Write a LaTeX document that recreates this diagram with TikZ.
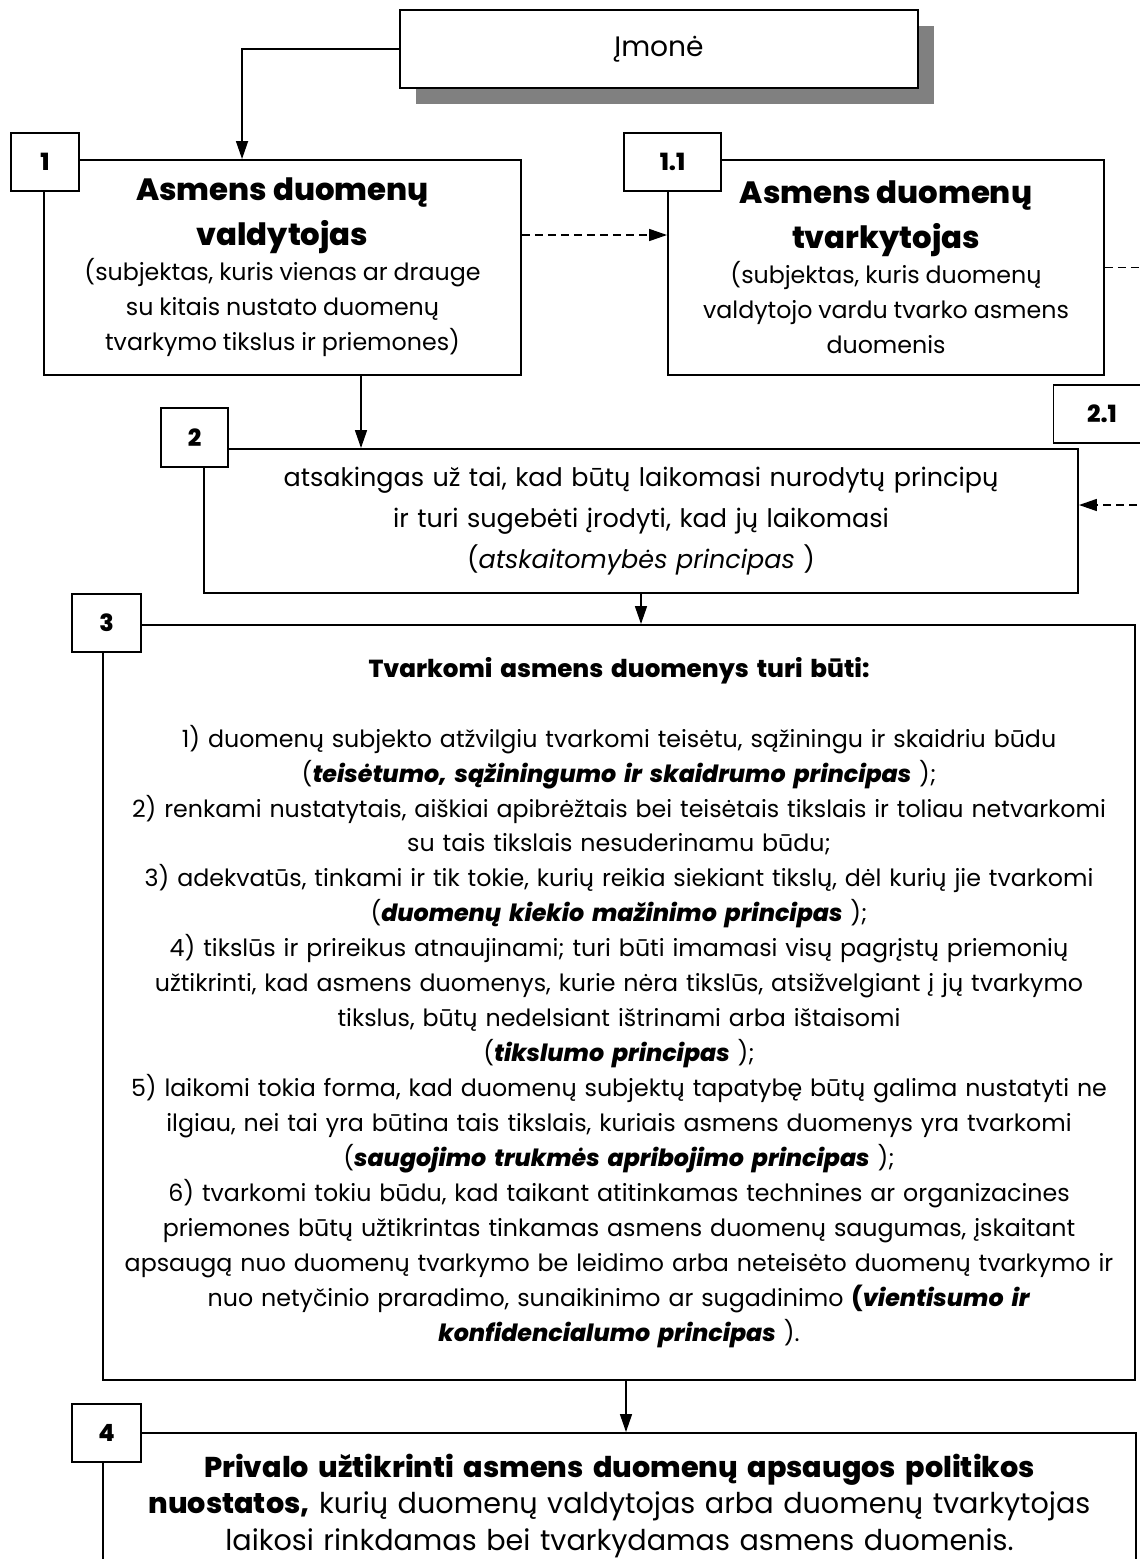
\documentclass[tikz,border=0pt]{standalone}
\usepackage{fontspec}
\setmainfont{Poppins}[BoldFont={* ExtraBold},BoldItalicFont={* ExtraBold Italic}]
\usetikzlibrary{arrows.meta,positioning,shadows}
\definecolor{Ink}{HTML}{000000}
\definecolor{Shade}{HTML}{808080}
\newcommand{\headfont}{\fontsize{17.5}{25.6}\selectfont\bfseries}
\newcommand{\bodyfont}{\fontsize{13.5}{19.9}\selectfont}

\begin{document}
\begin{tikzpicture}[
  x=0.2mm,y=-0.2mm,
  panel/.style={draw=Ink,fill=white,line width=1.1pt,align=center,inner sep=0pt},
  tag/.style={draw=Ink,fill=white,line width=1.1pt,minimum height=11.6mm,inner sep=0pt,font=\fontsize{13.5}{16}\selectfont\bfseries},
  arrow/.style={-{Triangle[length=3.6mm,width=2.4mm]},line width=0.9pt,draw=Ink},
  dasharrow/.style={arrow,dash pattern=on 1.6mm off 1mm},
  dashline/.style={line width=0.9pt,draw=Ink,dash pattern=on 1.6mm off 1mm}
]
\useasboundingbox (0,0) rectangle (1140,1559);
% top: company
\node[panel,minimum width=103.6mm,minimum height=15.6mm,font=\fontsize{16}{19}\selectfont,
  drop shadow={shadow xshift=3.2mm,shadow yshift=-3.2mm,fill=Shade,opacity=1}] (imone) at (659,49) {Įmonė};
% controller and processor
\node[panel,minimum width=95.4mm,minimum height=43mm,text width=92mm] (ctrl) at (282.5,267.5)
  {{\headfont Asmens duomenų\\valdytojas\par}{\bodyfont (subjektas, kuris vienas ar drauge\\su kitais nustato duomenų\\tvarkymo tikslus ir priemones)\par}};
\node[panel,minimum width=87.2mm,minimum height=43mm,text width=85mm] (proc) at (886,267.5)
  {{\headfont Asmens duomenų\\tvarkytojas\par}{\bodyfont (subjektas, kuris duomenų\\valdytojo vardu tvarko asmens\\duomenis\par}};
% responsibility
\node[panel,minimum width=174.8mm,minimum height=28.8mm,text width=172mm,font=\fontsize{14.5}{23.3}\selectfont] (resp) at (641,521)
  {atsakingas už tai, kad būtų laikomasi nurodytų principų\\ir turi sugebėti įrodyti, kad jų laikomasi\\(\textit{atskaitomybės principas} )};
% principles
\node[panel,minimum width=206.4mm,minimum height=151mm,text width=204mm,font=\bodyfont] (rules) at (619,1002.5)
  {{\fontsize{14}{19.9}\selectfont\textbf{Tvarkomi asmens duomenys turi būti:}}\\[19.9pt]
  1) duomenų subjekto atžvilgiu tvarkomi teisėtu, sąžiningu ir skaidriu būdu\\
  (\textbf{\textit{teisėtumo, sąžiningumo ir skaidrumo principas}} );\\
  2) renkami nustatytais, aiškiai apibrėžtais bei teisėtais tikslais ir toliau netvarkomi\\
  su tais tikslais nesuderinamu būdu;\\
  3) adekvatūs, tinkami ir tik tokie, kurių reikia siekiant tikslų, dėl kurių jie tvarkomi\\
  (\textbf{\textit{duomenų kiekio mažinimo principas}} );\\
  4) tikslūs ir prireikus atnaujinami; turi būti imamasi visų pagrįstų priemonių\\
  užtikrinti, kad asmens duomenys, kurie nėra tikslūs, atsižvelgiant į jų tvarkymo\\
  tikslus, būtų nedelsiant ištrinami arba ištaisomi\\
  (\textbf{\textit{tikslumo principas}} );\\
  5) laikomi tokia forma, kad duomenų subjektų tapatybę būtų galima nustatyti ne\\
  ilgiau, nei tai yra būtina tais tikslais, kuriais asmens duomenys yra tvarkomi\\
  (\textbf{\textit{saugojimo trukmės apribojimo principas}} );\\
  6) tvarkomi tokiu būdu, kad taikant atitinkamas technines ar organizacines\\
  priemones būtų užtikrintas tinkamas asmens duomenų saugumas, įskaitant\\
  apsaugą nuo duomenų tvarkymo be leidimo arba neteisėto duomenų tvarkymo ir\\
  nuo netyčinio praradimo, sunaikinimo ar sugadinimo \textbf{(\textit{vientisumo ir}}\\
  \textbf{\textit{konfidencialumo principas}} ).};
% policy
\node[panel,minimum width=206.6mm,minimum height=29.2mm,text width=204mm,font=\fontsize{16.3}{20.5}\selectfont] (policy) at (619.5,1506)
  {\textbf{Privalo užtikrinti asmens duomenų apsaugos politikos}\\\textbf{nuostatos,} kurių duomenų valdytojas arba duomenų tvarkytojas\\laikosi rinkdamas bei tvarkydamas asmens duomenis.};
% number tags
\node[tag,minimum width=13.6mm] (t1) at (45,162) {1};
\node[tag,minimum width=19.4mm] (t11) at (672.5,162) {1.1};
\node[tag,minimum width=13.4mm,minimum height=11.8mm] (t2) at (194.5,437.5) {2};
\node[tag,minimum width=19.4mm] (t21) at (1102,414) {2.1};
\node[tag,minimum width=13.8mm] (t3) at (106.5,623) {3};
\node[tag,minimum width=13.8mm] (t4) at (106.5,1433) {4};
\coordinate (out11) at (1150,267.5);
\coordinate (in21) at (1150,505);
% connectors
\draw[arrow] (imone.west) -| ([xshift=39.8mm]ctrl.north west);
\draw[dasharrow] ([yshift=6.5mm]ctrl.east) -- ([yshift=6.5mm]proc.west);
\draw[dashline] (proc.east) -- (out11);
\draw[arrow] ([xshift=15.7mm]ctrl.south) -- ([xshift=15.7mm]ctrl.south |- resp.north);
\draw[dasharrow] (in21) -- (in21 -| resp.east);
\draw[arrow] (resp.south) -- (resp.south |- rules.north);
\draw[arrow] ([xshift=1.4mm]rules.south) -- ([xshift=1.4mm]rules.south |- policy.north);
\end{tikzpicture}
\end{document}
